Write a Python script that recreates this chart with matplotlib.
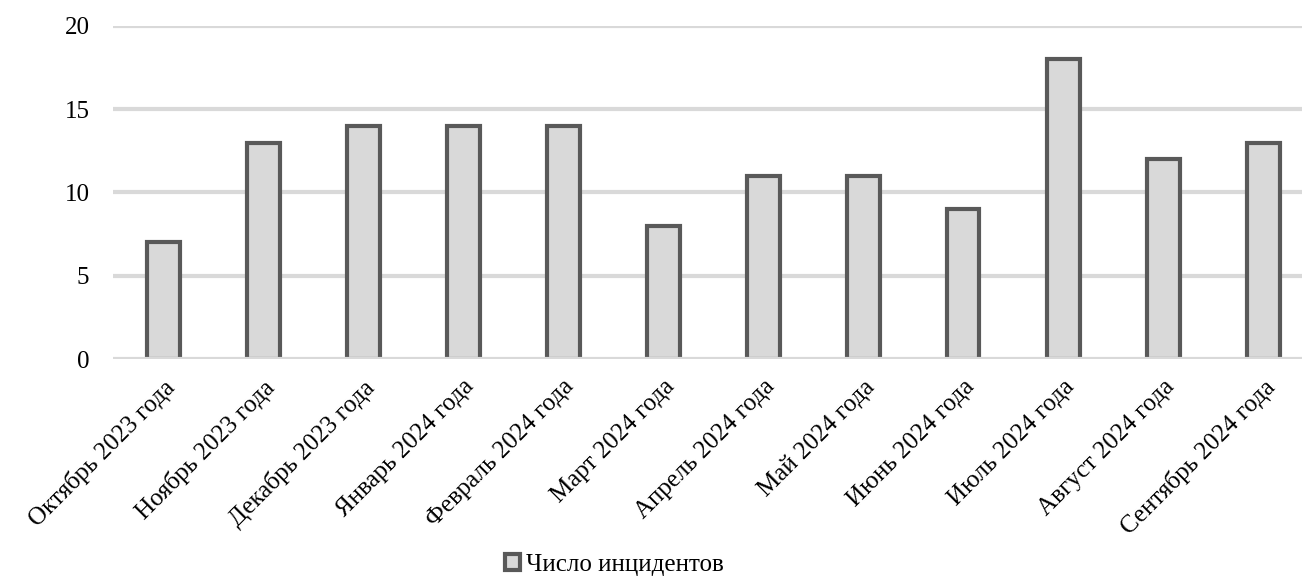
import matplotlib

matplotlib.use("Agg")
import matplotlib.pyplot as plt
import numpy as np

months = [
    "Октябрь 2023 года", "Ноябрь 2023 года", "Декабрь 2023 года",
    "Январь 2024 года", "Февраль 2024 года", "Март 2024 года",
    "Апрель 2024 года", "Май 2024 года", "Июнь 2024 года",
    "Июль 2024 года", "Август 2024 года", "Сентябрь 2024 года",
]
incidents = [7, 13, 14, 14, 14, 8, 11, 11, 9, 18, 12, 13]
series_name = "Число инцидентов"
y_ticks = [0, 5, 10, 15, 20]

plt.rcParams["font.family"] = ["Liberation Serif", "DejaVu Serif"]

W, H = 1302, 579
fig = plt.figure(figsize=(W / 100, H / 100), dpi=100)
ax = fig.add_axes([113 / W, 1 - 359 / H, 1 - 113 / W, (359 - 26) / H])

x = np.arange(len(months))
ax.bar(x, incidents, width=0.33, color="#d9d9d9", edgecolor="#595959",
       linewidth=3, label=series_name, zorder=2)
for t in y_ticks:
    ax.axhline(t, color="#d9d9d9", linewidth=3, zorder=1 if t else 3)

ax.set_xlim(-0.5, 11.39)
ax.set_ylim(0, 20)
ax.set_yticks(y_ticks)
ax.set_xticks(x)
ax.set_xticklabels(months, rotation=45, ha="right", rotation_mode="anchor")
ax.tick_params(length=0, labelsize=18)
ax.tick_params(axis="y", pad=17)
ax.tick_params(axis="x", pad=12)
for s in ax.spines.values():
    s.set_visible(False)

fig.legend(loc="center", bbox_to_anchor=(0.472, 0.024), frameon=False,
           fontsize=18, handlelength=0.6, handleheight=0.6, handletextpad=0.25)

fig.savefig("out.png", dpi=100)
